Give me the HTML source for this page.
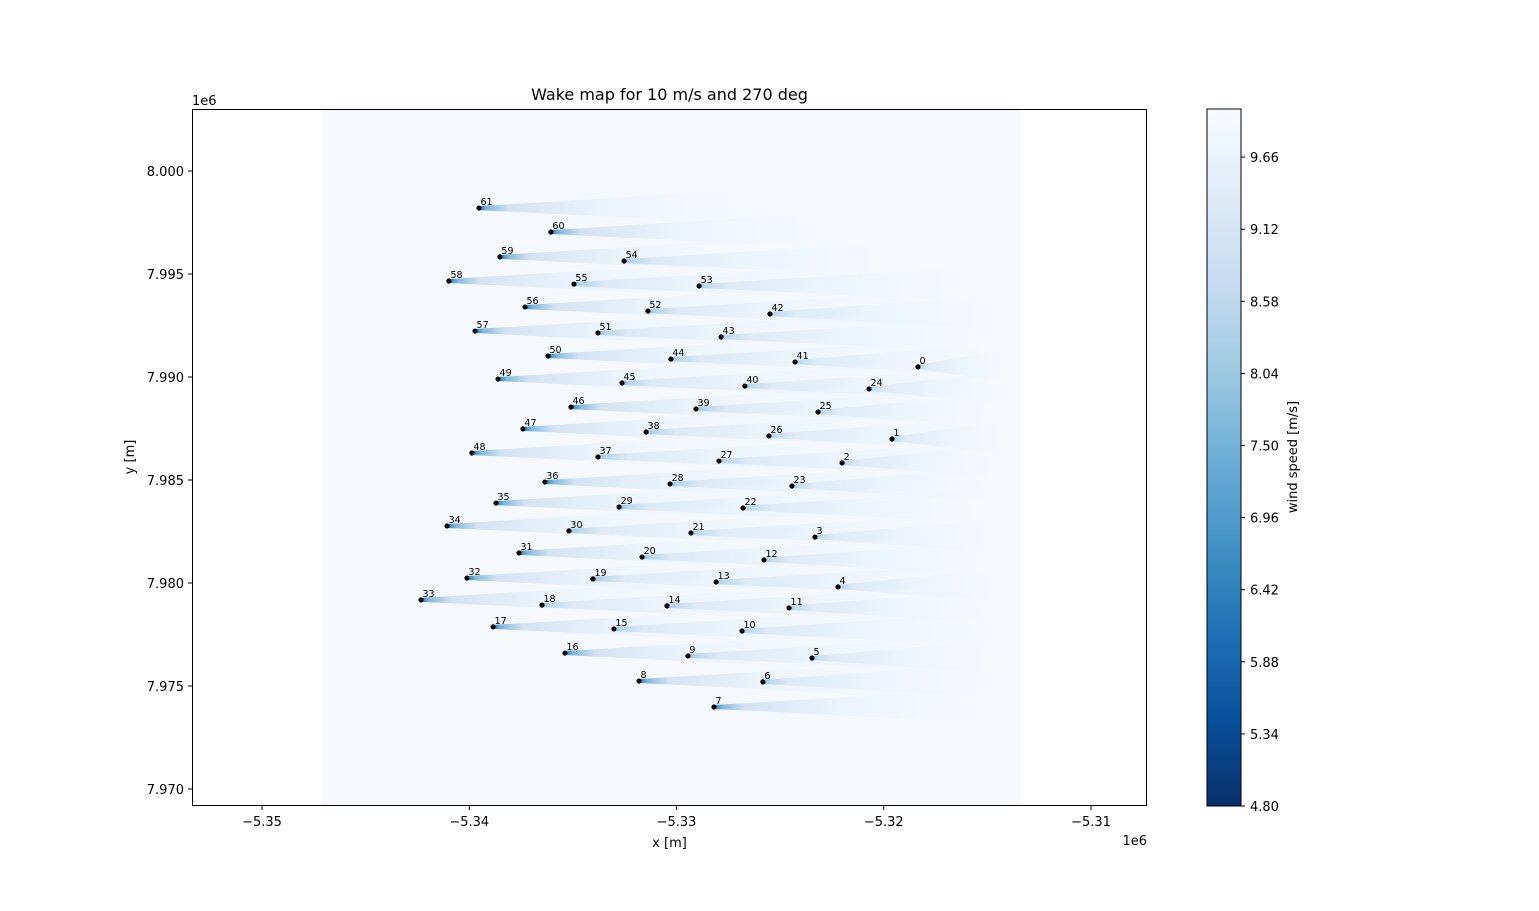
<!DOCTYPE html>
<html><head><meta charset="utf-8"><style>
body{margin:0;background:#fff;}
svg text{font-family:"DejaVu Sans","Liberation Sans",sans-serif;}
</style></head><body>
<svg id="chart" width="1539" height="906" xmlns="http://www.w3.org/2000/svg">
<defs>
<linearGradient id="wakeGrad" x1="0" y1="0" x2="1" y2="0">
<stop offset="0" stop-color="#2171b5" stop-opacity="0.95"/>
<stop offset="0.03" stop-color="#6baed6" stop-opacity="0.85"/>
<stop offset="0.1" stop-color="#c6dbef" stop-opacity="0.75"/>
<stop offset="0.4" stop-color="#e3eef9" stop-opacity="0.6"/>
<stop offset="1" stop-color="#f7fbff" stop-opacity="0"/>
</linearGradient>
<linearGradient id="cbGrad" x1="0" y1="1" x2="0" y2="0">
<stop offset="0" stop-color="#08306b"/>
<stop offset="0.125" stop-color="#08519c"/>
<stop offset="0.25" stop-color="#2171b5"/>
<stop offset="0.375" stop-color="#4292c6"/>
<stop offset="0.5" stop-color="#6baed6"/>
<stop offset="0.625" stop-color="#9ecae1"/>
<stop offset="0.75" stop-color="#c6dbef"/>
<stop offset="0.875" stop-color="#deebf7"/>
<stop offset="1" stop-color="#f7fbff"/>
</linearGradient>
<clipPath id="plotClip"><rect x="192" y="109" width="955" height="697"/></clipPath>
</defs>
<text x="669.5" y="100" font-size="16" text-anchor="middle">Wake map for 10 m/s and 270 deg</text>
<rect x="192" y="109" width="955" height="697" fill="#fff"/>
<g id="field" clip-path="url(#plotClip)"></g>
<rect x="192.5" y="109.5" width="954" height="696" fill="none" stroke="#000" stroke-width="1"/>
<g id="axes"></g>
<text x="669.5" y="847" font-size="13" text-anchor="middle">x [m]</text>
<text x="134" y="457" font-size="13" text-anchor="middle" transform="rotate(-90 134 457)">y [m]</text>
<text x="1147" y="845" font-size="13" text-anchor="end">1e6</text>
<text x="192" y="105" font-size="13">1e6</text>
<rect x="1207" y="109" width="34" height="697" fill="url(#cbGrad)" stroke="#000" stroke-width="1"/>
<g id="cbaxis"></g>
<text x="1297" y="457" font-size="13" text-anchor="middle" transform="rotate(-90 1297 457)">wind speed [m/s]</text>
</svg>
<script>
const turbineX = [-5318.35,-5319.60,-5322.01,-5323.32,-5322.21,-5323.46,-5325.83,-5328.19,-5331.81,-5329.45,-5326.84,-5324.57,-5325.78,-5328.09,-5330.46,-5333.02,-5335.38,-5338.85,-5336.49,-5334.03,-5331.66,-5329.30,-5326.79,-5324.43,-5320.71,-5323.17,-5325.54,-5327.95,-5330.31,-5332.77,-5335.19,-5337.60,-5340.11,-5342.33,-5341.07,-5338.71,-5336.35,-5333.79,-5331.47,-5329.06,-5326.70,-5324.28,-5325.49,-5327.85,-5330.27,-5332.63,-5335.09,-5337.41,-5339.87,-5338.61,-5336.20,-5333.79,-5331.38,-5328.91,-5332.53,-5334.95,-5337.31,-5339.72,-5340.98,-5338.52,-5336.06,-5339.53];
const turbineY = [7990.49,7986.99,7985.83,7982.23,7979.81,7976.36,7975.20,7973.98,7975.24,7976.46,7977.67,7978.79,7981.12,7980.05,7978.89,7977.77,7976.60,7977.87,7978.93,7980.20,7981.26,7982.43,7983.64,7984.71,7989.42,7988.30,7987.14,7985.92,7984.81,7983.69,7982.53,7981.46,7980.24,7979.18,7982.77,7983.88,7984.90,7986.12,7987.33,7988.45,7989.56,7990.73,7993.06,7991.94,7990.87,7989.71,7988.54,7987.48,7986.31,7989.90,7991.02,7992.14,7993.20,7994.42,7995.63,7994.51,7993.40,7992.23,7994.66,7995.83,7997.04,7998.20];
const xTicks = [-5350,-5340,-5330,-5320,-5310];
const xTickLabels = ["\u22125.35","\u22125.34","\u22125.33","\u22125.32","\u22125.31"];
const yTicks = [7970,7975,7980,7985,7990,7995,8000];
const yTickLabels = ["7.970","7.975","7.980","7.985","7.990","7.995","8.000"];
const cbTicks = [4.80,5.34,5.88,6.42,6.96,7.50,8.04,8.58,9.12,9.66];
const fieldXRange = [-5347.1, -5313.4];

const NS = "http://www.w3.org/2000/svg";
function xs(v){ return 262 + (v + 5350) * 20.725; }
function ys(v){ return 171 + (8000 - v) * 20.6; }
function cs(v){ return 806 - (v - 4.80) / 0.54 * 72.1; }
function mk(tag, attrs, parent){ const e=document.createElementNS(NS,tag); for(const k in attrs) e.setAttribute(k,attrs[k]); parent.appendChild(e); return e; }

const field = document.getElementById('field');
const bg = mk('rect',{x:xs(fieldXRange[0]),y:109,width:xs(fieldXRange[1])-xs(fieldXRange[0]),height:697,fill:'#f5f9fe'},field);


const fieldRight = xs(fieldXRange[1]);
for(let i=0;i<turbineX.length;i++){
  const x0=xs(turbineX[i]), y0=ys(turbineY[i]);
  const L=Math.min(300, fieldRight-x0);
  const w=mk('polygon',{points:`${x0},${y0-2} ${x0+L},${y0-20} ${x0+L},${y0+17} ${x0},${y0+2}`,fill:'url(#wakeGrad)'},field);
  
  
}
for(let i=0;i<turbineX.length;i++){
  const x0=xs(turbineX[i]), y0=ys(turbineY[i]);
  const c=mk('circle',{cx:x0,cy:y0,r:2.6,fill:'#000'},field);
  
  
  const t=mk('text',{x:x0+1.5,y:y0-3,'font-size':'9.5',fill:'#000'},field);
  t.textContent=String(i);
  
  
}
const axes=document.getElementById('axes');
xTicks.forEach((v,i)=>{
  const x=xs(v);
  const l=mk('line',{x1:x,x2:x,y1:806,y2:810,stroke:'#000'},axes);
  
  
  const t=mk('text',{x:x,y:826,'font-size':'13','text-anchor':'middle'},axes);
  t.textContent=xTickLabels[i];
  
  
});
yTicks.forEach((v,i)=>{
  const y=ys(v);
  const l=mk('line',{x1:188,x2:192,y1:y,y2:y,stroke:'#000'},axes);
  
  
  const t=mk('text',{x:184,y:y+5,'font-size':'13','text-anchor':'end'},axes);
  t.textContent=yTickLabels[i];
  
  
});
const cb=document.getElementById('cbaxis');
cbTicks.forEach(v=>{
  const y=cs(v);
  const l=mk('line',{x1:1241,x2:1245,y1:y,y2:y,stroke:'#000'},cb);
  
  
  const t=mk('text',{x:1250,y:y+5,'font-size':'13'},cb);
  t.textContent=v.toFixed(2);
  
  
});
</script>
</body></html>
